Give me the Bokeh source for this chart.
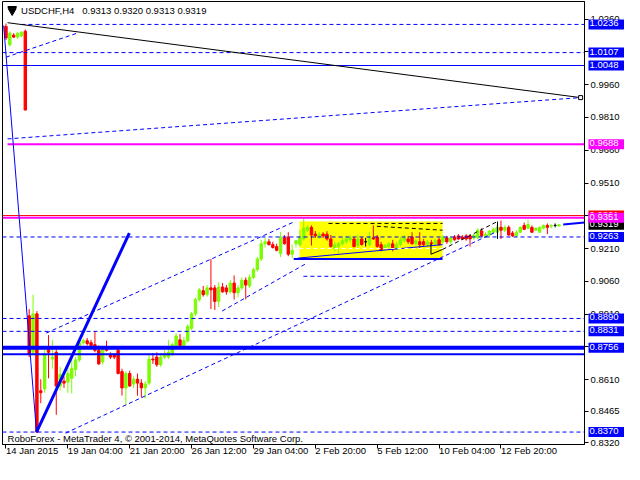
from bokeh.plotting import figure
from bokeh.models import Range1d, FixedTicker, PrintfTickFormatter
from bokeh.core.properties import value
from bokeh.embed import file_html
from bokeh.resources import INLINE

# ---------------- data (USDCHF H4 candles) ----------------
opens = [1.0227, 1.0143, 1.0187, 1.0178, 1.0183, 1.0205, 0.8902, 0.8735, 0.8911, 0.8559,
         0.8568, 0.8748, 0.8704, 0.8735, 0.8581, 0.8603, 0.8599, 0.8616, 0.8656, 0.8700,
         0.8779, 0.8788, 0.8779, 0.8770, 0.8744, 0.8691, 0.8748, 0.8722, 0.8722, 0.8744,
         0.8647, 0.8572, 0.8638, 0.8590, 0.8612, 0.8594, 0.8572, 0.8594, 0.8704, 0.8713,
         0.8678, 0.8713, 0.8713, 0.8726, 0.8766, 0.8792, 0.8766, 0.8788, 0.8845, 0.8911,
         0.8977, 0.9017, 0.8999, 0.9030, 0.9030, 0.8968, 0.9034, 0.9030, 0.9012, 0.9052,
         0.9008, 0.9030, 0.9065, 0.9039, 0.9078, 0.9114, 0.9162, 0.9232, 0.9241, 0.9228,
         0.9219, 0.9188, 0.9259, 0.9263, 0.9184, 0.9232, 0.9228, 0.9254, 0.9294, 0.9307,
         0.9276, 0.9263, 0.9276, 0.9276, 0.9254, 0.9210, 0.9219, 0.9232, 0.9241, 0.9250,
         0.9254, 0.9224, 0.9254, 0.9241, 0.9228, 0.9259, 0.9263, 0.9228, 0.9210, 0.9219,
         0.9232, 0.9210, 0.9228, 0.9246, 0.9254, 0.9263, 0.9232, 0.9241, 0.9241, 0.9228,
         0.9237, 0.9232, 0.9250, 0.9241, 0.9259, 0.9241, 0.9263, 0.9268, 0.9263, 0.9268,
         0.9268, 0.9259, 0.9259, 0.9290, 0.9263, 0.9272, 0.9285, 0.9285, 0.9307, 0.9294,
         0.9307, 0.9281, 0.9268, 0.9285, 0.9316, 0.9303, 0.9307, 0.9294, 0.9285, 0.9303,
         0.9316, 0.9312, 0.9316, 0.9313]
highs = [1.0240, 1.0205, 1.0196, 1.0200, 1.0205, 1.0213, 0.8933, 0.8999, 0.8924, 0.8612,
         0.8748, 0.8814, 0.8792, 0.8748, 0.8669, 0.8625, 0.8682, 0.8726, 0.8713, 0.8792,
         0.8797, 0.8801, 0.8792, 0.8832, 0.8766, 0.8757, 0.8788, 0.8735, 0.8731, 0.8757,
         0.8660, 0.8647, 0.8651, 0.8625, 0.8638, 0.8612, 0.8603, 0.8722, 0.8731, 0.8735,
         0.8731, 0.8744, 0.8792, 0.8779, 0.8823, 0.8819, 0.8805, 0.8863, 0.8920, 0.8986,
         0.9030, 0.9039, 0.9043, 0.9162, 0.9043, 0.9056, 0.9052, 0.9043, 0.9065, 0.9087,
         0.9043, 0.9078, 0.9078, 0.9092, 0.9122, 0.9171, 0.9250, 0.9259, 0.9254, 0.9241,
         0.9232, 0.9285, 0.9272, 0.9285, 0.9228, 0.9250, 0.9294, 0.9347, 0.9316, 0.9316,
         0.9290, 0.9285, 0.9285, 0.9290, 0.9272, 0.9241, 0.9241, 0.9263, 0.9268, 0.9272,
         0.9263, 0.9272, 0.9263, 0.9259, 0.9285, 0.9316, 0.9272, 0.9241, 0.9232, 0.9241,
         0.9250, 0.9241, 0.9263, 0.9272, 0.9268, 0.9285, 0.9254, 0.9285, 0.9254, 0.9250,
         0.9250, 0.9254, 0.9259, 0.9272, 0.9268, 0.9268, 0.9272, 0.9276, 0.9272, 0.9276,
         0.9276, 0.9276, 0.9303, 0.9303, 0.9285, 0.9294, 0.9307, 0.9316, 0.9338, 0.9316,
         0.9316, 0.9290, 0.9294, 0.9312, 0.9329, 0.9342, 0.9316, 0.9307, 0.9312, 0.9320,
         0.9325, 0.9320, 0.9325, 0.9320]
lows = [1.0165, 1.0134, 1.0174, 1.0169, 1.0178, 0.9844, 0.8713, 0.8722, 0.8365, 0.8502,
        0.8550, 0.8616, 0.8660, 0.8449, 0.8559, 0.8572, 0.8550, 0.8546, 0.8625, 0.8691,
        0.8770, 0.8766, 0.8757, 0.8735, 0.8678, 0.8678, 0.8739, 0.8704, 0.8704, 0.8634,
        0.8537, 0.8493, 0.8577, 0.8572, 0.8537, 0.8528, 0.8524, 0.8585, 0.8682, 0.8669,
        0.8669, 0.8704, 0.8704, 0.8717, 0.8757, 0.8757, 0.8757, 0.8779, 0.8836, 0.8902,
        0.8968, 0.8990, 0.8990, 0.8933, 0.8929, 0.8942, 0.9008, 0.8999, 0.9003, 0.8977,
        0.8986, 0.9021, 0.8977, 0.9030, 0.9070, 0.9105, 0.9153, 0.9215, 0.9224, 0.9210,
        0.9197, 0.9171, 0.9228, 0.9175, 0.9166, 0.9215, 0.9219, 0.9246, 0.9285, 0.9224,
        0.9259, 0.9254, 0.9259, 0.9246, 0.9215, 0.9197, 0.9188, 0.9224, 0.9232, 0.9237,
        0.9215, 0.9210, 0.9224, 0.9219, 0.9219, 0.9250, 0.9215, 0.9197, 0.9202, 0.9210,
        0.9197, 0.9202, 0.9219, 0.9237, 0.9232, 0.9228, 0.9224, 0.9210, 0.9219, 0.9219,
        0.9224, 0.9224, 0.9224, 0.9232, 0.9232, 0.9232, 0.9246, 0.9250, 0.9250, 0.9246,
        0.9219, 0.9250, 0.9254, 0.9263, 0.9259, 0.9263, 0.9281, 0.9281, 0.9254, 0.9285,
        0.9268, 0.9263, 0.9263, 0.9281, 0.9294, 0.9298, 0.9281, 0.9290, 0.9281, 0.9298,
        0.9276, 0.9303, 0.9307, 0.9313]
closes = [1.0174, 1.0196, 1.0178, 1.0196, 1.0200, 0.9844, 0.8726, 0.8911, 0.8370, 0.8550,
          0.8722, 0.8735, 0.8713, 0.8581, 0.8634, 0.8594, 0.8638, 0.8660, 0.8700, 0.8779,
          0.8788, 0.8775, 0.8766, 0.8744, 0.8682, 0.8748, 0.8744, 0.8713, 0.8713, 0.8638,
          0.8572, 0.8638, 0.8581, 0.8612, 0.8594, 0.8572, 0.8590, 0.8704, 0.8700, 0.8678,
          0.8713, 0.8726, 0.8735, 0.8770, 0.8810, 0.8766, 0.8788, 0.8854, 0.8911, 0.8977,
          0.9021, 0.8999, 0.9030, 0.9021, 0.8968, 0.9034, 0.9012, 0.9012, 0.9052, 0.9008,
          0.9030, 0.9065, 0.9043, 0.9078, 0.9114, 0.9162, 0.9232, 0.9241, 0.9228, 0.9215,
          0.9202, 0.9263, 0.9232, 0.9184, 0.9202, 0.9246, 0.9263, 0.9303, 0.9307, 0.9272,
          0.9268, 0.9276, 0.9268, 0.9254, 0.9219, 0.9228, 0.9232, 0.9246, 0.9254, 0.9259,
          0.9219, 0.9254, 0.9228, 0.9241, 0.9263, 0.9254, 0.9219, 0.9202, 0.9224, 0.9232,
          0.9206, 0.9228, 0.9250, 0.9259, 0.9241, 0.9232, 0.9246, 0.9228, 0.9228, 0.9241,
          0.9232, 0.9246, 0.9228, 0.9263, 0.9241, 0.9259, 0.9250, 0.9254, 0.9254, 0.9254,
          0.9254, 0.9272, 0.9294, 0.9268, 0.9276, 0.9290, 0.9298, 0.9307, 0.9294, 0.9307,
          0.9272, 0.9268, 0.9285, 0.9307, 0.9298, 0.9320, 0.9285, 0.9303, 0.9307, 0.9316,
          0.9307, 0.9316, 0.9316, 0.9319]

date_ticks = [0, 16, 32, 48, 64, 80, 96, 112, 128]
date_labels = ["14 Jan 2015", "19 Jan 04:00", "21 Jan 20:00", "26 Jan 12:00", "29 Jan 04:00",
               "2 Feb 20:00", "5 Feb 12:00", "10 Feb 04:00", "12 Feb 20:00"]
price_ticks = [1.0260, 1.0110, 0.9960, 0.9810, 0.9660, 0.9510, 0.9360, 0.9210, 0.9060,
               0.8910, 0.8760, 0.8610, 0.8465, 0.8320]

# horizontal levels: price, colour, dash, width, first bar, last bar (None = right edge)
level_prices = [1.0236, 1.0107, 1.0048, 0.9688, 0.9361, 0.9351, 0.9263, 0.8890, 0.8831, 0.8756, 0.8726, 0.8370, 0.9083]
level_colors = ["#0000ff", "#0000ff", "#0000ff", "#ff00ff", "#ff0000", "#ff00ff", "#0000ff", "#0000ff", "#0000ff", "#0000ff", "#0000ff", "#0000ff", "#0000ff"]
level_dash = ["dashed", "dashed", "solid", "solid", "solid", "solid", "dashed", "dashed", "dashed", "solid", "solid", "dashed", "dashed"]
level_width = [1, 1, 1, 2, 1, 2, 1, 1, 1, 4, 2, 1, 1]
level_start = [4.0, -0.9, -0.9, 0.4, -0.9, -0.9, -0.9, -0.9, -0.9, -0.9, -0.9, -0.9, 76.9]
level_end = [None, None, None, None, None, None, None, None, None, None, None, None, 99.1]

# trend lines: x0, y0, x1, y1 (bars / price), colour, dash, width
trend_lines = [
    (0.4, 1.0244, 148.6, 0.9901, "black", "solid", 1),
    (0.4, 0.9712, 148.6, 0.9901, "#0000ff", "dashed", 1),
    (0.0, 1.0086, 18.4, 1.0196, "#0000ff", "dashed", 1),
    (-0.6, 1.0231, 7.9, 0.8370, "#0000ff", "solid", 1),
    (7.9, 0.8370, 31.9, 0.9281, "#0000ff", "solid", 3),
    (15.4, 0.8365, 126.6, 0.9285, "#0000ff", "dashed", 1),
    (10.4, 0.8823, 74.1, 0.9329, "#0000ff", "dashed", 1),
    (55.9, 0.8924, 77.9, 0.9144, "#0000ff", "dashed", 1),
    (74.4, 0.9162, 112.9, 0.9162, "#0000ff", "solid", 2),
    (75.4, 0.9166, 112.9, 0.9228, "#0000ff", "solid", 1),
    (83.4, 0.9325, 112.9, 0.9325, "black", "dashed", 1),
    (95.9, 0.9312, 112.9, 0.9294, "black", "dashed", 1),
    (75.9, 0.9210, 112.9, 0.9210, "white", "dashed", 1),
    (109.9, 0.9232, 109.9, 0.9184, "black", "solid", 1),
    (109.9, 0.9184, 112.9, 0.9206, "black", "solid", 1),
    (112.9, 0.9206, 127.1, 0.9334, "black", "dashed", 1),
    (127.1, 0.9334, 127.1, 0.9254, "black", "solid", 1),
    (144.1, 0.9320, 149.6, 0.9329, "#0000ff", "solid", 2),
]

# yellow box: left bar, right bar, top, bottom
box_left, box_right, box_top, box_bottom = 75.9, 112.9, 0.9334, 0.9166

# price tags on the scale (drawn in this order)
tag_prices = [1.0236, 1.0107, 1.0048, 0.9688, 0.9361, 0.9319, 0.9351, 0.9263, 0.8890, 0.8831, 0.8756, 0.8370]
tag_colors = ["#0000ff", "#0000ff", "#0000ff", "#ff00ff", "#ff0000", "#000000", "#ff00ff", "#0000ff", "#0000ff", "#0000ff", "#0000ff", "#0000ff"]

NB = "\u00a0"
title_text = "USDCHF,H4" + NB * 3 + "0.9313 0.9320 0.9313 0.9319"
footer_text = "RoboForex - MetaTrader 4, \u00a9 2001-2014, MetaQuotes Software Corp."

# ---------------- figure ----------------
X0, X1 = -0.9, 149.6
Y0, Y1 = 0.8313, 1.0341
FONT = "Liberation Sans"
FS = "9.5px"
W, H = 624, 464
RB = 40

p = figure(width=W, height=H, x_range=Range1d(X0, X1), y_range=Range1d(Y0, Y1),
           output_backend="svg", toolbar_location=None, y_axis_location="right",
           min_border_left=2, min_border_top=1, min_border_right=RB, min_border_bottom=18)
p.xgrid.visible = False
p.ygrid.visible = False
p.outline_line_color = "black"
p.background_fill_color = "white"
p.border_fill_color = "white"

p.xaxis.ticker = FixedTicker(ticks=date_ticks)
p.xaxis.major_label_overrides = {t: s for t, s in zip(date_ticks, date_labels)}
p.xaxis.major_label_orientation = -1e-6   # tiny angle -> labels start at their tick
p.yaxis.ticker = FixedTicker(ticks=price_ticks)
p.yaxis.formatter = PrintfTickFormatter(format="%.4f")
for ax in (p.xaxis, p.yaxis):
    ax.minor_tick_line_color = None
    ax.major_tick_in = 0
    ax.major_tick_out = 4
    ax.axis_line_color = "black"
    ax.major_tick_line_color = "black"
    ax.major_label_text_font = FONT
    ax.major_label_text_font_size = FS
    ax.major_label_text_color = "black"
    ax.major_label_standoff = 2

# yellow rectangle (background object)
p.quad(left=[box_left], right=[box_right], top=[box_top], bottom=[box_bottom],
       fill_color="#ffff00", line_color=None)

# candles
bars = list(range(len(opens)))
up, down = "#7cfc00", "#ff0000"
cols = []
for o, c in zip(opens, closes):
    cols.append("black" if o == c else (up if c > o else down))
tops = [max(o, c) for o, c in zip(opens, closes)]
bots = [min(o, c) for o, c in zip(opens, closes)]
p.segment(x0=bars, y0=highs, x1=bars, y1=lows, line_color=cols, line_width=1)
p.vbar(x=bars, width=0.62, top=tops, bottom=bots, fill_color=cols, line_color=cols, line_width=1)

# levels
for pr, col, dsh, w, s, e in zip(level_prices, level_colors, level_dash, level_width, level_start, level_end):
    p.segment(x0=[s], y0=[pr], x1=[X1 if e is None else e], y1=[pr], line_color=col,
              line_dash=("4 3" if dsh == "dashed" else "solid"), line_width=w)

# trend lines
for x0, y0, x1, y1, col, dsh, w in trend_lines:
    p.segment(x0=[x0], y0=[y0], x1=[x1], y1=[y1], line_color=col,
              line_dash=("4 3" if dsh == "dashed" else "solid"), line_width=w)
p.scatter(x=[trend_lines[0][2]], y=[trend_lines[0][3]], marker="square", size=4,
          fill_color="white", line_color="black")

# header / footer texts
p.scatter(x=[1.6], y=[1.0298], marker="inverted_triangle", size=8, color="black")
p.scatter(x=[1.6], y=[1.0316], marker="dash", size=9, line_color="black", line_width=2)
p.text(x=[3.9], y=[1.0301], text=[title_text], text_font=value(FONT), text_font_size=FS,
       text_baseline="middle", text_align="left", text_color="black")
p.text(x=[0.4], y=[0.8339], text=[footer_text], text_font=value(FONT), text_font_size=FS,
       text_baseline="middle", text_align="left", text_color="black")

# price tags on the right scale (overlay level, so they may sit on the axis strip)
p.text(x=[X1] * len(tag_prices), y=tag_prices, text=["%.4f" % v for v in tag_prices],
       x_offset=4, text_align="left", text_baseline="middle", text_color="white",
       text_font=value(FONT), text_font_size=FS, background_fill_color=tag_colors,
       padding=(1, 6, 1, 3), level="overlay")

open("out.html", "w").write(file_html(p, INLINE))
